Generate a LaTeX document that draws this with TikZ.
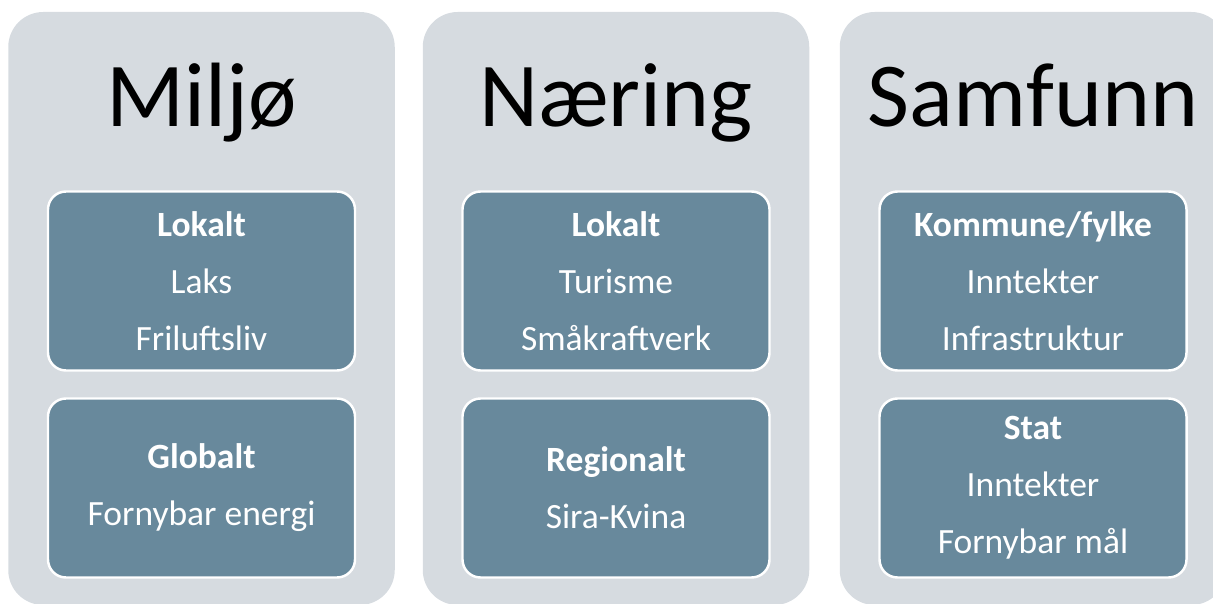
\documentclass[tikz,border=0pt]{standalone}
\usepackage{fontspec}
\setmainfont{Carlito}
\usetikzlibrary{positioning}
\definecolor{panelgray}{RGB}{214,219,224}
\definecolor{itemblue}{RGB}{104,137,156}
\tikzset{
	panel/.style={fill=panelgray, rounded corners=0.7cm, minimum width=7.73cm, minimum height=11.86cm, inner sep=0pt},
	item/.style={fill=itemblue, draw=white, line width=1.4pt, rounded corners=0.36cm, minimum width=6.14cm, minimum height=3.58cm, text=white, align=center, font={\fontsize{20.2}{32.4}\selectfont}},
	title/.style={anchor=base, font={\fontsize{52}{60}\selectfont}},
}

\begin{document}
\begin{tikzpicture}
		\newcommand{\picwidth}{24.26}
		\newcommand{\picheight}{12.06}
		\newcommand{\panelmid}{5.89}
		\newcommand{\titlebase}{9.52}
		\newcommand{\upperitem}{6.44}
		\newcommand{\loweritem}{2.30}
		\newcommand{\miljox}{4.03}
		\newcommand{\naeringx}{12.32}
		\newcommand{\samfunnx}{20.66}
		\clip (0,0) rectangle (\picwidth,\picheight);
		
		\node[panel] (miljo) at (\miljox,\panelmid) {};
		\node[panel] (naering) at (\naeringx,\panelmid) {};
		\node[panel] (samfunn) at (\samfunnx,\panelmid) {};
		
		\node[title] (miljotitle) at (\miljox,\titlebase) {Miljø};
		\node[title] (naeringtitle) at (\naeringx,\titlebase) {Næring};
		\node[title] (samfunntitle) at (\samfunnx,\titlebase) {Samfunn};
		
		\node[item] (miljolokalt) at (\miljox,\upperitem) {\textbf{Lokalt}\\Laks\\Friluftsliv};
		\node[item] (miljoglobalt) at (\miljox,\loweritem) {\textbf{Globalt}\\Fornybar energi};
		
		\node[item] (naeringlokalt) at (\naeringx,\upperitem) {\textbf{Lokalt}\\Turisme\\Småkraftverk};
		\node[item] (naeringregional) at (\naeringx,\loweritem) {\textbf{Regionalt}\\Sira-Kvina};
		
		\node[item] (samfunnkommune) at (\samfunnx,\upperitem) {\textbf{Kommune/fylke}\\Inntekter\\Infrastruktur};
		\node[item] (samfunnstat) at (\samfunnx,\loweritem) {\textbf{Stat}\\Inntekter\\Fornybar mål};
		
	\end{tikzpicture}
\end{document}
